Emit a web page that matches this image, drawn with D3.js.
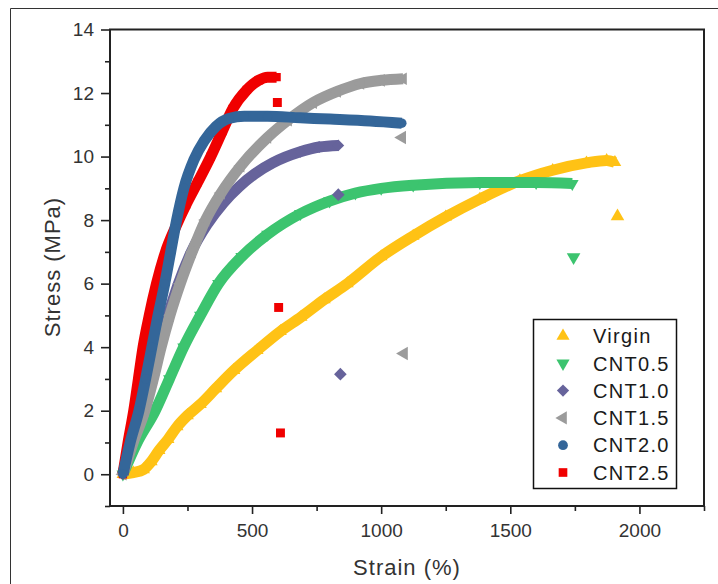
<!DOCTYPE html>
<html>
<head>
<meta charset="utf-8">
<script src="https://cdn.jsdelivr.net/npm/d3@7"></script>
<style>
  body { margin: 0; background: #fff; }
  svg { display: block; font-family: Arial, "Liberation Sans", sans-serif; }
</style>
</head>
<body>
<div id="chart"></div>
<script>
// legend order
const seriesNames = ['Virgin', 'CNT0.5', 'CNT1.0', 'CNT1.5', 'CNT2.0', 'CNT2.5'];
const seriesColors = ['#ffc215', '#3cc46f', '#66639b', '#9b9b9b', '#346699', '#f00000'];

// [strain %, stress MPa]
const virgin = [[0, 0], [40, 0.05], [80, 0.15], [110, 0.4], [140, 0.75], [175, 1.1], [210, 1.5],
  [250, 1.85], [300, 2.2], [360, 2.7], [430, 3.27], [520, 3.9], [610, 4.5], [690, 4.95],
  [780, 5.5], [869, 6.0], [1000, 6.85], [1124, 7.5], [1250, 8.1], [1382, 8.66],
  [1537, 9.24], [1664, 9.57], [1795, 9.8], [1873, 9.88], [1905, 9.82]];
const cnt05 = [[0, 0], [55, 1], [125, 2], [180, 3], [235, 4], [300, 5], [370, 6], [460, 6.85],
  [560, 7.55], [687, 8.2], [800, 8.6], [900, 8.85], [1000, 9.0], [1124, 9.1],
  [1382, 9.18], [1600, 9.18], [1740, 9.15]];
const cnt10 = [[0, 0], [35, 1], [78, 2], [110, 3], [140, 4], [175, 5], [215, 6], [265, 7],
  [325, 7.85], [390, 8.55], [450, 9.05], [510, 9.45], [580, 9.8], [687, 10.15], [760, 10.3],
  [834, 10.35]];
const cnt15 = [[0, 0], [40, 1], [85, 2], [118, 3], [148, 4], [182, 5], [222, 6], [268, 7],
  [320, 8], [380, 8.85], [456, 9.7], [560, 10.6], [640, 11.15], [737, 11.7], [830, 12.05],
  [920, 12.3], [1000, 12.4], [1085, 12.45]];
const cnt20 = [[0, 0], [28, 1], [62, 2], [88, 3], [112, 4], [136, 5], [162, 6], [185, 7],
  [208, 8], [236, 9], [275, 9.9], [315, 10.5], [360, 10.95], [410, 11.2], [470, 11.27],
  [560, 11.27], [687, 11.22], [803, 11.18], [958, 11.12], [1080, 11.05]];
const cnt25 = [[0, 0], [20, 1], [42, 2], [60, 3], [78, 4], [102, 5], [130, 6], [165, 7],
  [205, 7.8], [245, 8.5], [290, 9.2], [340, 10], [385, 10.8], [425, 11.5], [480, 12.1],
  [525, 12.4], [560, 12.5], [595, 12.5]];

// points left after the break
const virginBreak = [[1915, 8.12]];
const cnt05Break = [[1745, 6.83]];
const cnt10Break = [[834, 8.8], [842, 3.15]];
const cnt15Break = [[1081, 10.6], [1088, 3.8]];
const cnt20Break = [];
const cnt25Break = [[598, 11.7], [603, 5.25], [610, 1.3]];

const xTicks = [0, 500, 1000, 1500, 2000];
const xMinorTicks = [250, 750, 1250, 1750, 2250];
const yTicks = [0, 2, 4, 6, 8, 10, 12, 14];
const yMinorTicks = [-1, 1, 3, 5, 7, 9, 11, 13];

const curves = [virgin, cnt05, cnt10, cnt15, cnt20, cnt25];
const breaks = [virginBreak, cnt05Break, cnt10Break, cnt15Break, cnt20Break, cnt25Break];
const shapes = [
  { type: d3.symbolTriangle, rot: 0 },
  { type: d3.symbolTriangle, rot: 180 },
  { type: d3.symbolSquare, rot: 45 },
  { type: d3.symbolTriangle, rot: -90 },
  { type: d3.symbolCircle, rot: 0 },
  { type: d3.symbolSquare, rot: 0 }
];
const drawOrder = [0, 1, 2, 3, 5, 4];

const W = 718, H = 584;
const svg = d3.select('#chart').append('svg').attr('width', W).attr('height', H);

// outer frame of the image
svg.append('path').attr('d', `M10.5,${H} V8.5 H${W}`)
  .attr('fill', 'none').attr('stroke', '#333').attr('stroke-width', 1);

const x = d3.scaleLinear().domain([-50, 2250]).range([110, 704]);
const y = d3.scaleLinear().domain([-1, 14]).range([506, 29.5]);

const plot = svg.append('g');
plot.append('defs').append('clipPath').attr('id', 'clip')
  .append('rect').attr('x', 110).attr('y', 29.5).attr('width', 594).attr('height', 476.5);

const line = d3.line().x(d => x(d[0])).y(d => y(d[1])).curve(d3.curveMonotoneX);
const sym = (s, size) => d3.symbol().type(s.type).size(size);

const marks = plot.append('g').attr('clip-path', 'url(#clip)');
drawOrder.forEach(i => {
  const g = marks.append('g');
  g.append('path').attr('d', line(curves[i]))
    .attr('fill', 'none').attr('stroke', seriesColors[i])
    .attr('stroke-width', 11).attr('stroke-linejoin', 'round');
  g.selectAll('path.pt').data(curves[i]).enter().append('path')
    .attr('class', 'pt')
    .attr('d', sym(shapes[i], 70)())
    .attr('transform', d => `translate(${x(d[0])},${y(d[1])}) rotate(${shapes[i].rot})`)
    .attr('fill', seriesColors[i]);
});
drawOrder.forEach(i => {
  marks.selectAll(null).data(breaks[i]).enter().append('path')
    .attr('d', sym(shapes[i], 80)())
    .attr('transform', d => `translate(${x(d[0])},${y(d[1])}) rotate(${shapes[i].rot})`)
    .attr('fill', seriesColors[i]);
});

// axes
const axisColor = '#222';
const styleAxis = g => {
  g.select('.domain').remove();
  g.selectAll('.tick line').attr('stroke', axisColor).attr('stroke-width', 1.6);
  g.selectAll('.tick text').attr('fill', '#333').attr('font-size', 19)
    .attr('font-family', 'Arial, "Liberation Sans", sans-serif');
};
plot.append('g').attr('transform', 'translate(110,0)')
  .call(d3.axisLeft(y).tickValues(yTicks).tickSize(9).tickPadding(7).tickFormat(d3.format('d')))
  .call(styleAxis);
plot.append('g').attr('transform', 'translate(110,0)')
  .call(d3.axisLeft(y).tickValues(yMinorTicks).tickSize(5).tickFormat(''))
  .call(styleAxis);
plot.append('g').attr('transform', 'translate(0,506)')
  .call(d3.axisBottom(x).tickValues(xTicks).tickSize(8).tickPadding(10).tickFormat(d3.format('d')))
  .call(styleAxis);
plot.append('g').attr('transform', 'translate(0,506)')
  .call(d3.axisBottom(x).tickValues(xMinorTicks).tickSize(5).tickFormat(''))
  .call(styleAxis);

// plot frame
plot.append('rect').attr('x', 110).attr('y', 29.5).attr('width', 594).attr('height', 476.5)
  .attr('fill', 'none').attr('stroke', axisColor).attr('stroke-width', 2);

// axis titles
svg.append('text').attr('x', 407).attr('y', 575).attr('text-anchor', 'middle')
  .attr('font-size', 22).attr('letter-spacing', 1).attr('fill', '#333').text('Strain (%)');
svg.append('text').attr('transform', 'translate(60,267) rotate(-90)').attr('text-anchor', 'middle')
  .attr('font-size', 22).attr('letter-spacing', 1).attr('fill', '#333').text('Stress (MPa)');

// legend
const legend = svg.append('g');
legend.append('rect').attr('x', 533.5).attr('y', 319.5).attr('width', 143).attr('height', 169)
  .attr('fill', '#fff').attr('stroke', '#111').attr('stroke-width', 1.5);
seriesNames.forEach((name, i) => {
  const cy = 336 + i * 27.3;
  legend.append('path').attr('d', sym(shapes[i], 75)())
    .attr('transform', `translate(563,${cy}) rotate(${shapes[i].rot})`)
    .attr('fill', seriesColors[i]);
  legend.append('text').attr('x', 593).attr('y', cy).attr('dy', '0.36em')
    .attr('font-size', 20).attr('letter-spacing', 1.3).attr('fill', '#1a1a1a').text(name);
});
</script>
</body>
</html>
